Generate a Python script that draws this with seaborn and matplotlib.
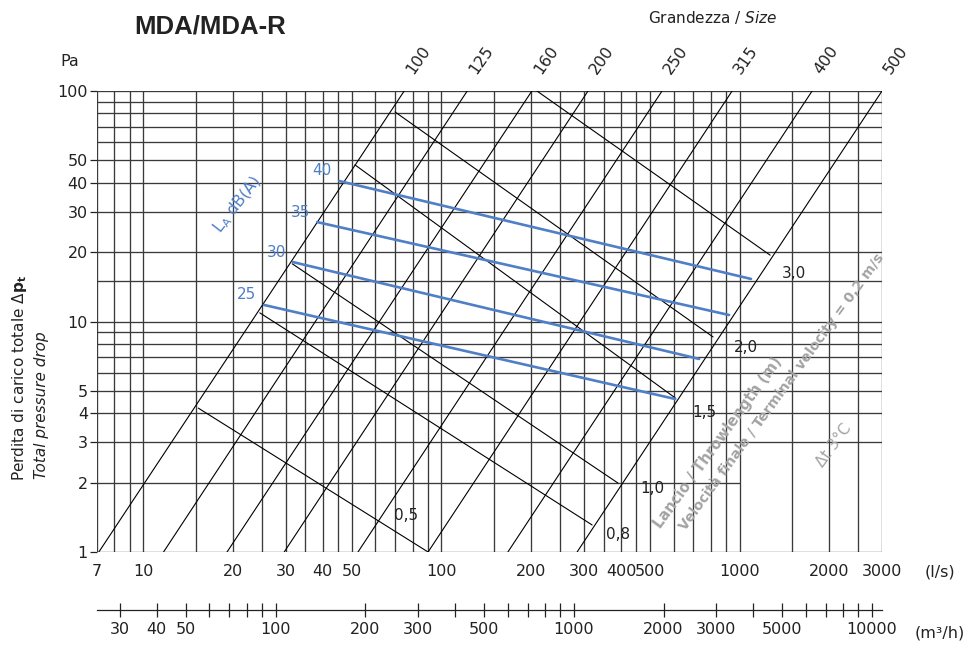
# MDA/MDA-R  pressure drop / throw / noise chart

import numpy as np
import pandas as pd
import matplotlib
matplotlib.use("Agg")
import matplotlib.pyplot as plt
import seaborn as sns
from matplotlib.ticker import FixedLocator, FixedFormatter, NullFormatter, NullLocator

# ------------------------------------------
# DATA
# ------------------------------------------

# size lines: flow (l/s) at 1 Pa and at 100 Pa
sizes = [100, 125, 160, 200, 250, 315, 400, 500]
size_q_1pa = [7.1, 11.7, 19.1, 29.7, 52.5, 90.2, 167, 285]
size_q_100pa = [75, 122, 201, 310, 549, 943, 1749, 3000]

# throw lines (m)
throw_labels = ["0,5", "0,8", "1,0", "1,5", "2,0", "3,0"]
throw_q_start = [15.3, 24.6, 31.6, 51.3, 69.9, 209]
throw_p_start = [4.21, 10.9, 17.8, 47.8, 81.1, 100]
throw_q_end = [90.2, 320, 391, 608, 814, 1265]
throw_p_end = [1.0, 1.31, 1.99, 4.66, 8.57, 19.4]

# sound power lines LA dB(A)
noise_levels = [25, 30, 35, 40]
noise_q_start = [25.4, 31.8, 38.3, 45.4]
noise_p_start = [11.8, 18.1, 27.0, 40.7]
noise_q_end = [608, 731, 921, 1091]
noise_p_end = [4.61, 6.88, 10.67, 15.3]

x_grid = [7, 8, 9, 10, 15, 20, 25, 30, 35, 40, 45, 50, 60, 70, 80, 90,
          100, 150, 200, 250, 300, 350, 400, 450, 500, 600, 700, 800, 900,
          1000, 1500, 2000, 2500, 3000]
y_grid = [1, 3, 4, 5, 6, 7, 8, 9, 10, 15, 20, 30, 40, 50, 60, 70, 80, 90, 100]

x_ticks = [7, 10, 20, 30, 40, 50, 100, 200, 300, 400, 500, 1000, 2000, 3000]
y_ticks = [1, 2, 3, 4, 5, 10, 20, 30, 40, 50, 100]
m3h_ticks = [30, 40, 50, 100, 200, 300, 500, 1000, 2000, 3000, 5000, 10000]
m3h_minor = [60, 70, 80, 90, 400, 600, 700, 800, 900,
             4000, 6000, 7000, 8000, 9000]

# label offsets (pixels)
throw_offsets = [(-22, 37), (26, -10), (34, -5), (29, -15), (33, -11), (24, -18)]

# ------------------------------------------
# STYLE
# ------------------------------------------

sns.set_style("white")
plt.rcParams['font.family'] = ['DejaVu Sans']

W, H = 968, 646
blue = '#4f7fc6'
grey = '#a3a3a3'
gridc = '#3a3a3a'
ink = '#222222'


def px(x, y):
    return x / W, 1 - y / H


fig = plt.figure(figsize=(W / 100, H / 100), dpi=100)
ax = fig.add_axes([97 / W, 1 - 552 / H, (882 - 97) / W, (552 - 91) / H])
ax.set_xscale('log')
ax.set_yscale('log')
ax.set_xlim(7, 3000)
ax.set_ylim(1, 100)

for s in ax.spines.values():
    s.set_visible(False)

# ------------------------------------------
# GRID
# ------------------------------------------

for v in x_grid:
    ax.axvline(v, color=gridc, lw=0.95, zorder=1)
for v in y_grid:
    ax.axhline(v, color=gridc, lw=0.95, zorder=1)
ax.hlines(2, 7, 1000, color=gridc, lw=0.95, zorder=1)

# ------------------------------------------
# LINES
# ------------------------------------------

size_df = pd.DataFrame({
    'q': size_q_1pa + size_q_100pa,
    'p': [1] * len(sizes) + [100] * len(sizes),
    'size': sizes + sizes,
})
sns.lineplot(data=size_df, x='q', y='p', units='size', estimator=None,
             color='black', lw=0.8, ax=ax, zorder=3)

throw_df = pd.DataFrame({
    'q': throw_q_start + throw_q_end,
    'p': throw_p_start + throw_p_end,
    'throw': throw_labels + throw_labels,
})
sns.lineplot(data=throw_df, x='q', y='p', units='throw', estimator=None,
             color='black', lw=0.8, ax=ax, zorder=3)

noise_df = pd.DataFrame({
    'q': noise_q_start + noise_q_end,
    'p': noise_p_start + noise_p_end,
    'level': noise_levels + noise_levels,
})
sns.lineplot(data=noise_df, x='q', y='p', units='level', estimator=None,
             color=blue, lw=1.9, ax=ax, zorder=4)

# ------------------------------------------
# LABELS ON THE LINES
# ------------------------------------------

for s, q in zip(sizes, size_q_100pa):
    ax.annotate(str(s), xy=(q, 100), xytext=(14, 31), textcoords='offset pixels',
                ha='center', va='center', rotation=55, fontsize=11.5,
                color=ink, annotation_clip=False)

for lab, q, p, off in zip(throw_labels, throw_q_end, throw_p_end, throw_offsets):
    ax.annotate(lab, xy=(q, p), xytext=off, textcoords='offset pixels',
                ha='center', va='center', fontsize=11, color=ink,
                annotation_clip=False)

for lev, q, p in zip(noise_levels, noise_q_start, noise_p_start):
    ax.annotate(str(lev), xy=(q, p), xytext=(-17, 10), textcoords='offset pixels',
                ha='center', va='center', fontsize=11, color=blue)

fig.text(*px(238, 205), r'L$_\mathregular{A}$ dB(A)', color=blue, fontsize=11.5,
         rotation=52, ha='center', va='center')

fig.text(*px(718, 443), 'Lancio / Throwlength (m)', color=grey, fontsize=10.5,
         fontweight='bold', rotation=54, ha='center', va='center')
fig.text(*px(782, 392), 'Velocità finale / Terminal velocity = 0,2 m/s',
         color=grey, fontsize=10, fontweight='bold', rotation=54,
         ha='center', va='center')
fig.text(*px(834, 445), 'Δt 3°C', color=grey, fontsize=11, rotation=54,
         ha='center', va='center')

# ------------------------------------------
# AXES
# ------------------------------------------

ax.set_xlabel('')
ax.set_ylabel('')
ax.xaxis.set_major_locator(FixedLocator(x_ticks))
ax.xaxis.set_major_formatter(FixedFormatter([str(v) for v in x_ticks]))
ax.xaxis.set_minor_locator(NullLocator())
ax.yaxis.set_major_locator(FixedLocator(y_ticks))
ax.yaxis.set_major_formatter(FixedFormatter([str(v) for v in y_ticks]))
ax.yaxis.set_minor_locator(NullLocator())
ax.tick_params(axis='x', length=0, pad=9, labelsize=11.5, colors=ink)
ax.tick_params(axis='y', length=5, width=0.9, pad=1.5, labelsize=11.5,
               colors=ink, left=True)

sec = ax.secondary_xaxis((552 - 610) / (552 - 91),
                         functions=(lambda q: q * 3.6, lambda v: v / 3.6))
sec.xaxis.set_major_locator(FixedLocator(m3h_ticks))
sec.xaxis.set_major_formatter(FixedFormatter([str(v) for v in m3h_ticks]))
sec.xaxis.set_minor_locator(FixedLocator(m3h_minor))
sec.xaxis.set_minor_formatter(NullFormatter())
sec.tick_params(which='both', direction='inout', length=10, width=0.9,
                pad=4, labelsize=11.5, colors=ink)
sec.spines['bottom'].set_linewidth(0.9)
sec.spines['bottom'].set_color(ink)

fig.text(*px(940, 572), '(l/s)', fontsize=11.5, ha='center', va='center', color=ink)
fig.text(*px(940, 633), '(m³/h)', fontsize=11.5, ha='center', va='center', color=ink)

# ------------------------------------------
# TITLES
# ------------------------------------------

fig.text(*px(210, 26), 'MDA/MDA-R', fontsize=18.5, fontweight='bold',
         family='Liberation Sans', ha='center', va='center', color=ink)
fig.text(*px(70, 62), 'Pa', fontsize=11.5, ha='center', va='center', color=ink)
fig.text(*px(712, 18), 'Grandezza / $\\mathit{Size}$', fontsize=11,
         ha='center', va='center', color=ink)
fig.text(*px(20, 481), r'Perdita di carico totale $\Delta\mathbf{p}_\mathbf{t}$',
         fontsize=11, rotation=90, ha='center', va='bottom', color=ink)
fig.text(*px(42, 479), 'Total pressure drop', fontsize=11, style='italic',
         rotation=90, ha='center', va='bottom', color=ink)

fig.savefig('out.png', dpi=100)
